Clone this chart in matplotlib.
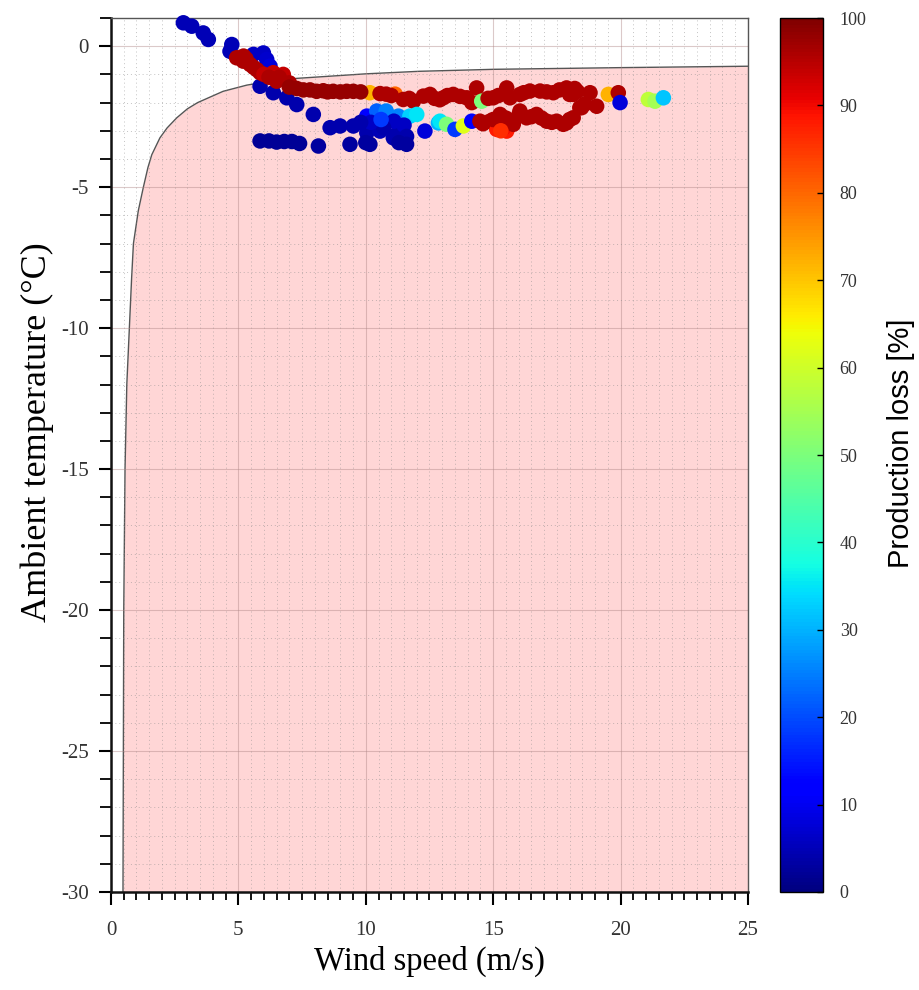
import numpy as np
import matplotlib
matplotlib.use("Agg")
from matplotlib import pyplot as plt
from matplotlib.ticker import MultipleLocator

plt.rcParams['font.family'] = ['Liberation Serif', 'DejaVu Serif']
plt.rcParams['axes.unicode_minus'] = False

# icing boundary
boundary_ws = [0.47, 0.50, 0.55, 0.62, 0.72, 0.81, 0.88, 1.07, 1.27, 1.45, 1.6, 1.92, 2.2,
               2.58, 3.0, 3.4, 4.4, 5.33, 6.2, 7.3, 10.0, 12.1, 15.0, 20.0, 25.0]
boundary_temp = [-30, -20, -15, -12, -10, -8.2, -7.0, -5.84, -5.0, -4.3, -3.85, -3.25, -2.9,
                 -2.54, -2.22, -2.0, -1.6, -1.38, -1.25, -1.14, -0.98, -0.89, -0.82, -0.76, -0.71]

# diagonal blue group (top left)
ws_a = [2.84, 3.17, 3.62, 3.82, 4.74, 4.67, 5.59, 5.98, 6.11, 6.24, 5.85, 6.37, 6.9, 7.29, 7.94]
temp_a = [0.83, 0.71, 0.47, 0.24, 0.06, -0.18, -0.29, -0.24, -0.47, -0.71, -1.42, -1.65, -1.83, -2.07, -2.42]
loss_a = [5, 5, 5, 5, 5, 5, 6, 6, 7, 8, 4, 4, 4, 4, 4]

# red group near 5-7 m/s
ws_b = [4.93, 5.19, 5.46, 5.72, 5.85, 6.37, 6.76, 6.5, 5.2, 5.3, 5.6, 6.0, 6.2, 6.6, 7.0]
temp_b = [-0.41, -0.53, -0.65, -0.83, -0.94, -0.94, -1.0, -1.24, -0.35, -0.45, -0.75, -1.0, -1.1, -1.1, -1.3]
loss_b = [96, 96, 96, 96, 96, 94, 94, 96, 96, 96, 96, 94, 96, 96, 96]

# upper red band
ws_c = [7.29, 7.55, 7.81, 8.07, 8.33, 8.72, 9.25, 9.51, 10.16, 10.56, 10.8, 11.15, 11.47, 11.87,
        12.26, 12.52, 12.9, 13.04, 13.43, 13.96, 14.16, 14.35, 14.55, 15.0, 15.53, 15.66, 16.05,
        16.44, 16.84, 17.36, 17.88, 18.0, 18.14, 18.8, 19.52, 19.91, 19.06, 18.47,
        7.0, 8.5, 9.0, 9.8, 11.0, 11.7, 12.7, 13.2, 13.7, 14.8, 15.2, 16.2, 17.1, 17.6,
        18.3, 18.6, 18.2]
temp_c = [-1.5, -1.55, -1.55, -1.6, -1.58, -1.6, -1.6, -1.6, -1.65, -1.68, -1.7, -1.7, -1.89, -1.95,
          -1.77, -1.71, -1.9, -1.83, -1.71, -1.83, -2.0, -1.48, -1.95, -1.83, -1.48, -1.83, -1.71,
          -1.59, -1.59, -1.65, -1.48, -1.71, -1.71, -1.65, -1.71, -1.65, -2.13, -2.18,
          -1.45, -1.62, -1.62, -1.62, -1.75, -1.85, -1.85, -1.75, -1.78, -1.85, -1.75, -1.65, -1.62, -1.55,
          -1.6, -2.05, -1.5]
loss_c = [98, 98, 98, 98, 98, 98, 98, 98, 72, 96, 96, 80, 96, 96,
          96, 96, 96, 96, 96, 96, 96, 96, 50, 96, 96, 96, 96,
          96, 96, 96, 96, 96, 96, 96, 72, 96, 96, 96,
          98, 98, 98, 98, 96, 96, 96, 96, 96, 96, 96, 96, 96, 96,
          96, 96, 96]

# lower mixed band
ws_d = [8.6, 8.99, 9.51, 10.04, 10.43, 10.8, 11.28, 11.73, 12.0, 10.04, 10.56, 11.08, 11.2, 11.1,
        10.7, 12.32, 12.85, 12.91, 13.17, 13.5, 13.83, 14.16, 14.48, 14.87, 15.27, 15.14, 15.53,
        15.4, 15.79, 16.05, 16.31, 16.7, 17.1, 17.49, 17.75, 17.88, 18.0, 18.14, 18.4,
        10.2, 10.6, 11.5, 11.6, 9.8, 14.6, 15.0, 15.5, 16.0, 16.5, 16.9, 17.3, 15.3]
temp_d = [-2.89, -2.83, -2.83, -2.48, -2.3, -2.3, -2.48, -2.48, -2.42, -3.07, -3.01, -3.25, -3.13, -2.66,
          -2.89, -3.01, -2.72, -2.66, -2.77, -2.95, -2.83, -2.66, -2.66, -2.66, -2.42, -2.95, -3.01,
          -2.9, -2.77, -2.3, -2.54, -2.42, -2.66, -2.66, -2.77, -2.72, -2.6, -2.54, -2.18,
          -2.7, -2.6, -2.8, -3.2, -2.7, -2.75, -2.6, -2.55, -2.45, -2.5, -2.55, -2.7, -3.0]
loss_d = [4, 4, 4, 12, 22, 25, 25, 33, 35, 4, 5, 4, 4, 6,
          4, 8, 30, 35, 50, 18, 62, 12, 96, 96, 96, 88, 88,
          90, 96, 96, 96, 96, 96, 96, 96, 96, 96, 96, 96,
          6, 18, 6, 4, 4, 96, 96, 96, 96, 96, 96, 96, 86]

# bottom purple row
ws_e = [5.85, 6.2, 6.5, 6.8, 7.1, 7.4, 8.14, 9.38, 10.0, 10.16, 11.3, 11.6]
temp_e = [-3.36, -3.36, -3.4, -3.38, -3.38, -3.45, -3.54, -3.48, -3.42, -3.48, -3.42, -3.48]
loss_e = [2, 2, 2, 2, 2, 2, 3, 3, 3, 3, 3, 3]

# far right
ws_f = [19.98, 21.09, 21.35, 21.68]
temp_f = [-2.0, -1.89, -1.95, -1.83]
loss_f = [8, 58, 55, 32]

wind_speed = ws_a + ws_b + ws_c + ws_d + ws_e + ws_f
temperature = temp_a + temp_b + temp_c + temp_d + temp_e + temp_f
production_loss = loss_a + loss_b + loss_c + loss_d + loss_e + loss_f

fig = plt.figure(figsize=(9.19, 9.9), dpi=100)
ax = fig.add_axes([0.1208, 0.099, 0.6931, 0.8828])
cax = fig.add_axes([0.8487, 0.099, 0.0468, 0.8828])

ax.fill_between(boundary_ws, -30, boundary_temp, color='#ffd6d6', zorder=0.5, linewidth=0)
ax.plot(boundary_ws, boundary_temp, color='#555555', lw=1.0, zorder=1.2)

sc = ax.scatter(wind_speed, temperature, c=production_loss, cmap='jet', vmin=0, vmax=100,
                s=125, edgecolors='none', zorder=3, clip_on=False)

ax.set_xlim(0, 25)
ax.set_ylim(-30, 1)
ax.xaxis.set_major_locator(MultipleLocator(5))
ax.xaxis.set_minor_locator(MultipleLocator(0.5))
ax.yaxis.set_major_locator(MultipleLocator(5))
ax.yaxis.set_minor_locator(MultipleLocator(1))

ax.grid(True, which='major', color='#b08888', alpha=0.45, lw=0.8)
ax.grid(True, which='minor', color='#888888', alpha=0.5, lw=0.7, linestyle=(0, (1, 3)))

ax.tick_params(axis='both', which='major', direction='out', length=9, width=1.5,
               labelsize=15, labelcolor='#333333')
ax.tick_params(axis='x', which='major', pad=12)
ax.tick_params(axis='y', which='major', pad=7)
ax.tick_params(axis='both', which='minor', direction='out', length=6, width=1.3)
ax.tick_params(axis='y', which='minor', length=8)

for side in ['left', 'bottom']:
    ax.spines[side].set_linewidth(1.8)
    ax.spines[side].set_color('#111111')
for side in ['top', 'right']:
    ax.spines[side].set_linewidth(1.0)
    ax.spines[side].set_color('#555555')

ax.set_xlabel('Wind speed (m/s)', fontsize=23.5, labelpad=4)
ax.set_ylabel('Ambient temperature (\u00b0C)', fontsize=26)
ax.yaxis.set_label_coords(-0.090, 0.526)

cbar = fig.colorbar(sc, cax=cax)
cbar.set_ticks(np.arange(0, 101, 10))
cbar.ax.tick_params(direction='in', length=4, width=1, labelsize=13, labelcolor='#333333', pad=12)
cbar.outline.set_linewidth(1.0)
cbar.set_label('Production loss [%]', fontsize=21, family=['Liberation Sans', 'DejaVu Sans'],
               labelpad=14)
cbar.ax.yaxis.set_label_coords(2.49, 0.513)

fig.savefig('out.png', dpi=100)
